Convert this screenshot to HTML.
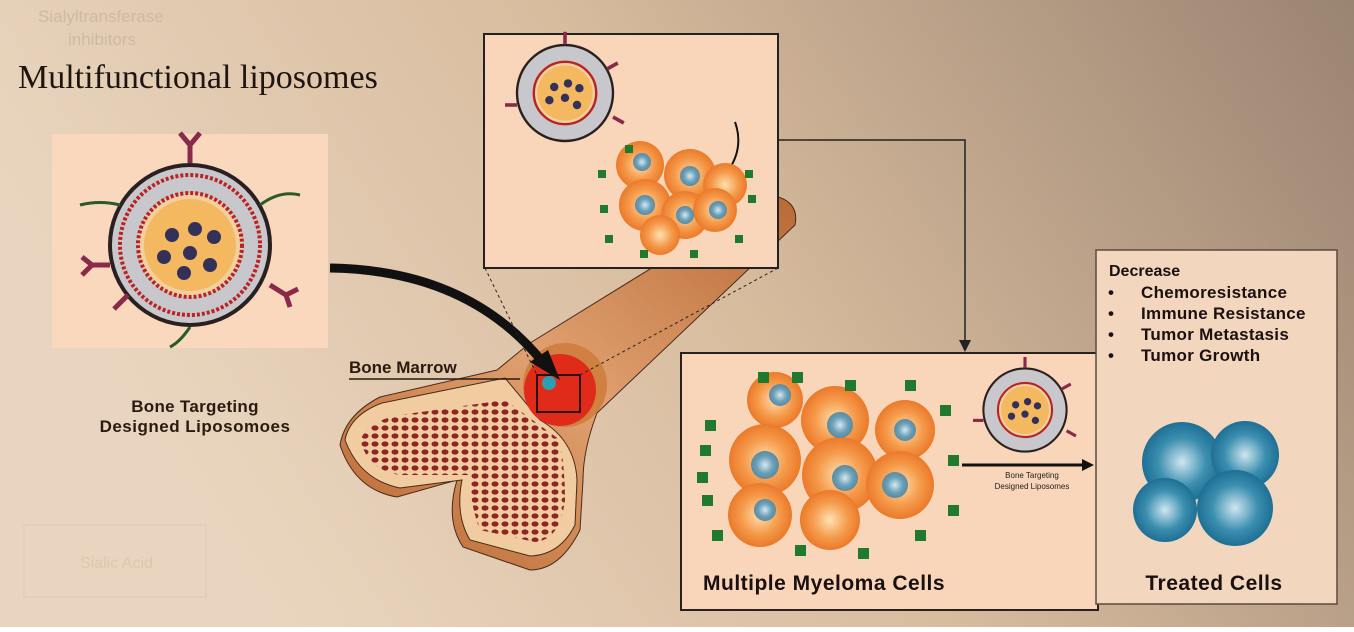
<!DOCTYPE html>
<html><head><meta charset="utf-8"><style>
body{margin:0;width:1354px;height:627px;overflow:hidden;font-family:"Liberation Sans",sans-serif}
</style></head><body>
<svg width="1354" height="627" viewBox="0 0 1354 627" xmlns="http://www.w3.org/2000/svg">
<defs>
<linearGradient id="bg" x1="0" y1="0.3" x2="1" y2="0">
<stop offset="0" stop-color="#e9d5bf"/><stop offset="0.45" stop-color="#d8bc9e"/><stop offset="1" stop-color="#9a8472"/>
</linearGradient>
<linearGradient id="bone" x1="0" y1="1" x2="1" y2="0">
<stop offset="0" stop-color="#b8652e"/><stop offset="0.5" stop-color="#e0a070"/><stop offset="1" stop-color="#b86a36"/>
</linearGradient>
<radialGradient id="cell"><stop offset="0" stop-color="#ffe0b0"/><stop offset="0.6" stop-color="#f59a4a"/><stop offset="1" stop-color="#ea7a2a"/></radialGradient>
<radialGradient id="nuc"><stop offset="0" stop-color="#d8e8f0"/><stop offset="0.6" stop-color="#6aa0b8"/><stop offset="1" stop-color="#5c8aa0"/></radialGradient>
<radialGradient id="tc"><stop offset="0" stop-color="#cfe6f0"/><stop offset="0.6" stop-color="#3c8fb0"/><stop offset="1" stop-color="#1e6f94"/></radialGradient>
<pattern id="dots" width="10" height="8" patternUnits="userSpaceOnUse"><ellipse cx="5" cy="4" rx="3.5" ry="2.6" fill="#8e2424"/></pattern>
</defs>
<rect width="1354" height="627" fill="url(#bg)"/>
<text x="38" y="22" font-size="17" fill="#cdb9a4">Sialyltransferase</text>
<text x="68" y="45" font-size="17" fill="#cdb9a4">inhibitors</text>
<text x="18" y="88" font-family="Liberation Serif" font-size="34" fill="#1e1410">Multifunctional liposomes</text>

<rect x="52" y="134" width="276" height="214" fill="#fad8bd"/>
<g transform="translate(190,245)">
<circle r="82" fill="#2a2020"/><circle r="78" fill="#c8c8cc"/><circle r="70" fill="none" stroke="#b22" stroke-width="4" stroke-dasharray="3 2"/>
<circle r="52" fill="#f0d0a0" stroke="#b22" stroke-width="4" stroke-dasharray="3 2"/>
<circle r="46" fill="#f4b860"/>
<g fill="#33305a"><circle cx="-18" cy="-10" r="7"/><circle cx="5" cy="-16" r="7"/><circle cx="24" cy="-8" r="7"/><circle cx="-26" cy="12" r="7"/><circle cx="0" cy="8" r="7"/><circle cx="20" cy="20" r="7"/><circle cx="-6" cy="28" r="7"/></g>
<g stroke="#8a2a4a" stroke-width="5" fill="none"><path d="M0,-82 v-18 M0,-100 l-10,-12 M0,-100 l10,-12"/><path d="M-80,20 h-18 l-10,-8 M-98,20 l-10,10"/><path d="M-62,50 l-14,14"/><path d="M80,40 l16,10 l12,-6 M96,50 l4,12"/></g>
<g stroke="#2a5a2a" stroke-width="3" fill="none"><path d="M-70,-40 q-20,-5 -40,0"/><path d="M70,-40 q20,-15 40,-10"/><path d="M0,82 q-10,15 -20,20"/></g>
</g>
<text x="195" y="412" font-size="17" font-weight="bold" text-anchor="middle" fill="#2a1a10" letter-spacing="0.3">Bone Targeting</text>
<text x="195" y="432" font-size="17" font-weight="bold" text-anchor="middle" fill="#2a1a10" letter-spacing="0.5">Designed Liposomoes</text>
<rect x="24" y="525" width="182" height="72" fill="none" stroke="#dcc8b4"/>
<text x="80" y="568" font-size="16" fill="#dcc6b0">Sialic Acid</text>

<path d="M530,343 L770,195 Q800,200 795,225 L597,413 Q583,450 583,480 L580,530 Q560,570 530,570 L463,547 Q445,520 457,480 L397,497 Q355,490 340,445 Q345,415 380,397 L497,370 Z" fill="url(#bone)" stroke="#4a2a1a" stroke-width="1"/>
<path d="M345,440 Q350,415 382,403 L505,378 L540,420 Q575,440 577,480 L575,525 Q560,555 530,556 L470,540 Q455,515 462,480 L400,488 Q360,480 345,440Z" fill="#f0cca0" stroke="#4a2a1a"/>
<path d="M360,440 Q370,420 400,415 L505,400 L560,440 Q565,470 565,500 Q560,540 535,542 L480,530 Q470,505 470,475 L400,475 Q368,470 360,440Z" fill="url(#dots)"/>
<ellipse cx="565" cy="385" rx="42" ry="42" fill="#d08040"/>
<ellipse cx="560" cy="390" rx="36" ry="36" fill="#e02a1a"/>
<rect x="537" y="375" width="43" height="37" fill="none" stroke="#2a1010" stroke-width="2"/>
<circle cx="549" cy="383" r="7" fill="#2aa0b0"/>
<path d="M330,268 Q470,270 545,365" stroke="#111" stroke-width="9" fill="none"/>
<path d="M530,362 L560,380 L548,350Z" fill="#111"/>
<text x="349" y="373" font-size="17" font-weight="bold" fill="#2a1a10">Bone Marrow</text>
<line x1="349" y1="379" x2="520" y2="379" stroke="#2a1a10" stroke-width="1.5"/>
<line x1="485" y1="268" x2="537" y2="375" stroke="#222" stroke-dasharray="3 3"/>
<line x1="778" y1="268" x2="580" y2="375" stroke="#222" stroke-dasharray="3 3"/>

<rect x="484" y="34" width="294" height="234" fill="#f9d6ba" stroke="#222" stroke-width="2"/>
<g transform="translate(565,93) scale(0.6)">
<circle r="82" fill="#2a2020"/><circle r="78" fill="#c8c8cc"/><circle r="52" fill="#f0d0a0" stroke="#b22" stroke-width="4"/><circle r="46" fill="#f4b860"/>
<g fill="#33305a"><circle cx="-18" cy="-10" r="7"/><circle cx="5" cy="-16" r="7"/><circle cx="24" cy="-8" r="7"/><circle cx="-26" cy="12" r="7"/><circle cx="0" cy="8" r="7"/><circle cx="20" cy="20" r="7"/></g>
<g stroke="#8a2a4a" stroke-width="6" fill="none"><path d="M0,-82 v-20"/><path d="M-80,20 h-20"/><path d="M80,40 l18,10"/><path d="M70,-40 l18,-10"/></g>
</g>
<path d="M735,122 Q745,150 725,175" stroke="#111" stroke-width="2" fill="none"/>
<g>
<circle cx="640" cy="165" r="24" fill="url(#cell)"/><circle cx="690" cy="175" r="26" fill="url(#cell)"/><circle cx="725" cy="185" r="22" fill="url(#cell)"/>
<circle cx="645" cy="205" r="26" fill="url(#cell)"/><circle cx="685" cy="215" r="24" fill="url(#cell)"/><circle cx="715" cy="210" r="22" fill="url(#cell)"/><circle cx="660" cy="235" r="20" fill="url(#cell)"/>
<g fill="url(#nuc)"><circle cx="642" cy="162" r="9"/><circle cx="690" cy="176" r="10"/><circle cx="645" cy="205" r="10"/><circle cx="685" cy="215" r="9"/><circle cx="718" cy="210" r="9"/></g>
<g fill="#1f7a2e"><rect x="598" y="170" width="8" height="8"/><rect x="600" y="205" width="8" height="8"/><rect x="605" y="235" width="8" height="8"/><rect x="640" y="250" width="8" height="8"/><rect x="690" y="250" width="8" height="8"/><rect x="735" y="235" width="8" height="8"/><rect x="748" y="195" width="8" height="8"/><rect x="745" y="170" width="8" height="8"/><rect x="625" y="145" width="8" height="8"/></g>
</g>
<path d="M778,140 H965 V345" stroke="#222" stroke-width="1.5" fill="none"/>
<path d="M959,340 L965,352 L971,340Z" fill="#222"/>

<rect x="681" y="353" width="417" height="257" fill="#f9d6ba" stroke="#2a2020" stroke-width="2"/>
<g>
<circle cx="775" cy="400" r="28" fill="url(#cell)"/><circle cx="835" cy="420" r="34" fill="url(#cell)"/><circle cx="905" cy="430" r="30" fill="url(#cell)"/>
<circle cx="765" cy="460" r="36" fill="url(#cell)"/><circle cx="840" cy="475" r="38" fill="url(#cell)"/><circle cx="900" cy="485" r="34" fill="url(#cell)"/>
<circle cx="760" cy="515" r="32" fill="url(#cell)"/><circle cx="830" cy="520" r="30" fill="url(#cell)"/>
<g fill="url(#nuc)"><circle cx="780" cy="395" r="11"/><circle cx="840" cy="425" r="13"/><circle cx="905" cy="430" r="11"/><circle cx="765" cy="465" r="14"/><circle cx="845" cy="478" r="13"/><circle cx="895" cy="485" r="13"/><circle cx="765" cy="510" r="11"/></g>
<g fill="#1f7a2e"><rect x="705" y="420" width="11" height="11"/><rect x="700" y="445" width="11" height="11"/><rect x="697" y="472" width="11" height="11"/><rect x="702" y="495" width="11" height="11"/><rect x="712" y="530" width="11" height="11"/><rect x="758" y="372" width="11" height="11"/><rect x="792" y="372" width="11" height="11"/><rect x="845" y="380" width="11" height="11"/><rect x="905" y="380" width="11" height="11"/><rect x="940" y="405" width="11" height="11"/><rect x="948" y="455" width="11" height="11"/><rect x="948" y="505" width="11" height="11"/><rect x="795" y="545" width="11" height="11"/><rect x="858" y="548" width="11" height="11"/><rect x="915" y="530" width="11" height="11"/></g>
</g>
<g transform="translate(1025,410) scale(0.52)">
<circle r="82" fill="#2a2020"/><circle r="78" fill="#c8c8cc"/><circle r="52" fill="#f0d0a0" stroke="#b22" stroke-width="4"/><circle r="46" fill="#f4b860"/>
<g fill="#33305a"><circle cx="-18" cy="-10" r="7"/><circle cx="5" cy="-16" r="7"/><circle cx="24" cy="-8" r="7"/><circle cx="-26" cy="12" r="7"/><circle cx="0" cy="8" r="7"/><circle cx="20" cy="20" r="7"/></g>
<g stroke="#8a2a4a" stroke-width="6" fill="none"><path d="M0,-82 v-20"/><path d="M-80,20 h-20"/><path d="M80,40 l18,10"/><path d="M70,-40 l18,-10"/></g>
</g>
<line x1="962" y1="465" x2="1084" y2="465" stroke="#111" stroke-width="3"/>
<path d="M1082,459 L1094,465 L1082,471Z" fill="#111"/>
<text x="1032" y="478" font-size="8" text-anchor="middle" fill="#222">Bone Targeting</text>
<text x="1032" y="489" font-size="8" text-anchor="middle" fill="#222">Designed Liposomes</text>
<text x="703" y="590" font-size="21" font-weight="bold" fill="#1a1010" letter-spacing="0.5">Multiple Myeloma Cells</text>

<rect x="1096" y="250" width="241" height="354" fill="#f2d6bd" stroke="#5a4a40" stroke-width="1.5"/>
<text x="1109" y="276" font-size="16" font-weight="bold" fill="#1a1010">Decrease</text>
<g font-size="17" font-weight="bold" fill="#1a1010" letter-spacing="0.3">
<text x="1108" y="298">•</text><text x="1141" y="298">Chemoresistance</text>
<text x="1108" y="319">•</text><text x="1141" y="319">Immune Resistance</text>
<text x="1108" y="340">•</text><text x="1141" y="340">Tumor Metastasis</text>
<text x="1108" y="361">•</text><text x="1141" y="361">Tumor Growth</text>
</g>
<g>
<circle cx="1182" cy="462" r="40" fill="url(#tc)"/><circle cx="1245" cy="455" r="34" fill="url(#tc)"/>
<circle cx="1165" cy="510" r="32" fill="url(#tc)"/><circle cx="1235" cy="508" r="38" fill="url(#tc)"/>
</g>
<text x="1214" y="590" font-size="21" font-weight="bold" text-anchor="middle" fill="#1a1010" letter-spacing="0.5">Treated Cells</text>
</svg>
</body></html>
